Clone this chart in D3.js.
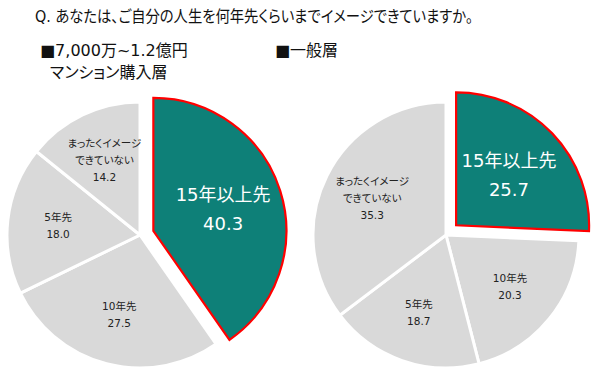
<!DOCTYPE html>
<html><head><meta charset="utf-8">
<script src="https://cdn.jsdelivr.net/npm/d3@7"></script>
<style>
html,body{margin:0;padding:0;background:#fff;}
svg{display:block;font-family:"DejaVu Sans","Noto Sans CJK JP",sans-serif;}
.jp{font-feature-settings:"palt" 1;}
</style></head>
<body><svg id="chart" width="600" height="383"></svg>
<script>
const title = "Q. あなたは、ご自分の人生を何年先くらいまでイメージできていますか。";
const categories = ["15年以上先", "10年先", "5年先", "まったくイメージ\nできていない"];
const seriesNames = ["■7,000万~1.2億円\nマンション購入層", "■一般層"];
const valuesCondo = [40.3, 27.5, 18.0, 14.2];
const valuesGeneral = [25.7, 20.3, 18.7, 35.3];

const svg = d3.select("#chart");
svg.append("text").attr("class", "jp").attr("x", 35).attr("y", 22).attr("font-size", 16)
  .attr("textLength", 438).attr("lengthAdjust", "spacingAndGlyphs").attr("fill", "#111").text(title);

const R = 133;
const pies = [
  {name: seriesNames[0], values: valuesCondo, cx: 140, cy: 235, tx: 40, ty: 56},
  {name: seriesNames[1], values: valuesGeneral, cx: 446, cy: 235, tx: 275, ty: 56}
];
const pie = d3.pie().sort(null).value(d => d);
const arc = d3.arc().innerRadius(0).outerRadius(R);
const labelArc = d3.arc().innerRadius(R * 0.62).outerRadius(R * 0.62);
const hiLabelArc = d3.arc().innerRadius(R * 0.55).outerRadius(R * 0.55);
const explode = 14;

pies.forEach(p => {
  const lines = p.name.split("\n");
  const t = svg.append("text").attr("class", "jp").attr("x", p.tx).attr("y", p.ty).attr("font-size", 16).attr("fill", "#111");
  lines.forEach((l, i) => t.append("tspan").attr("x", i === 0 ? p.tx : p.tx + 10).attr("dy", i === 0 ? 0 : 22).text(l));

  const g = svg.append("g").attr("transform", `translate(${p.cx},${p.cy})`);
  const arcs = pie(p.values);
  arcs.forEach((a, i) => {
    const mid = (a.startAngle + a.endAngle) / 2;
    const hi = i === 0;
    const dx = hi ? Math.sin(mid) * explode : 0, dy = hi ? -Math.cos(mid) * explode : 0;
    const sg = g.append("g").attr("transform", `translate(${dx},${dy})`);
    sg.append("path").attr("d", arc(a))
      .attr("fill", hi ? "#0E8078" : "#D9D9D9")
      .attr("stroke", hi ? "#FF0000" : "#FFFFFF")
      .attr("stroke-width", hi ? 2.2 : 3)
      .attr("stroke-linejoin", "miter");
    const c = (hi ? hiLabelArc : labelArc).centroid(a);
    const lab = categories[i].split("\n").concat([p.values[i].toFixed(1)]);
    const fs = hi ? 18 : 10.5;
    const lh = hi ? 29 : 17;
    const txt = sg.append("text").attr("class", "jp").attr("text-anchor", "middle").attr("font-size", fs)
      .attr("fill", hi ? "#FFFFFF" : "#222");
    const n = lab.length;
    lab.forEach((l, k) => {
      txt.append("tspan").attr("x", c[0]).attr("y", c[1] + (k - (n - 1) / 2) * lh + fs * 0.36).text(l);
    });
  });
});
</script></body></html>
